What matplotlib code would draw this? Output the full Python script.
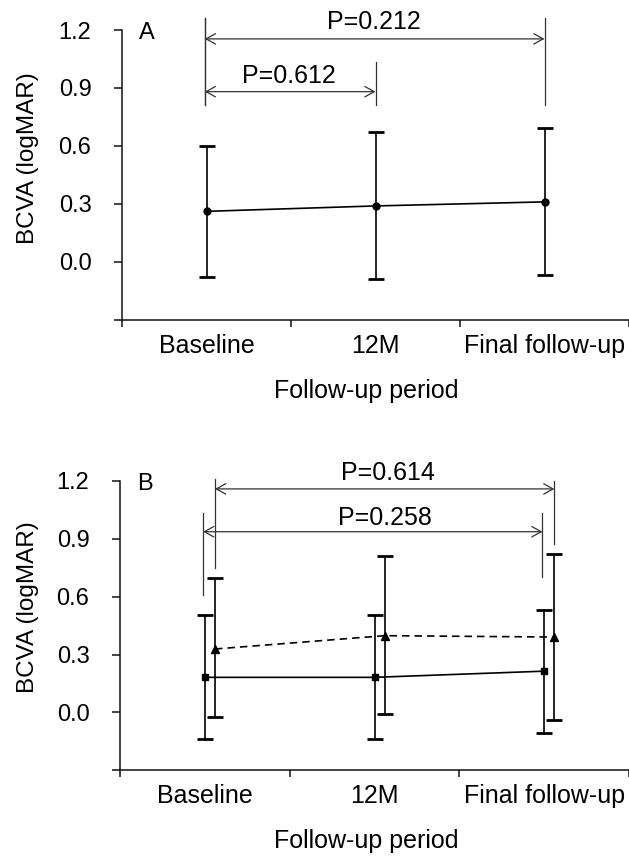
import matplotlib
matplotlib.use('Agg')
import matplotlib.pyplot as plt

plt.rcParams['font.family'] = ['Liberation Sans', 'DejaVu Sans']

# ---------------- data ----------------
categories = ['Baseline', '12M', 'Final follow-up']
cat_pos = [0.5, 1.5, 2.5]

# Panel A (circles)
a_mean = [0.262, 0.290, 0.311]
a_upper = [0.601, 0.672, 0.692]
a_lower = [-0.078, -0.088, -0.069]

# Panel B, series 1 (squares, solid line)
b1_mean = [0.182, 0.182, 0.214]
b1_upper = [0.505, 0.505, 0.531]
b1_lower = [-0.138, -0.138, -0.109]

# Panel B, series 2 (triangles, dashed line)
b2_mean = [0.329, 0.398, 0.391]
b2_upper = [0.695, 0.811, 0.821]
b2_lower = [-0.026, -0.009, -0.040]

a_pvals = ['P=0.612', 'P=0.212']
b_pvals = ['P=0.258', 'P=0.614']

yticks = [-0.3, 0.0, 0.3, 0.6, 0.9, 1.2]
ytick_labels = ['', '0.0', '0.3', '0.6', '0.9', '1.2']

# ---------------- figure ----------------
W, H = 629, 857
fig = plt.figure(figsize=(W / 100, H / 100), dpi=100)
axA = fig.add_axes([122 / W, 1 - 320 / H, 507 / W, 290 / H])
axB = fig.add_axes([120 / W, 1 - 770.3 / H, 509 / W, 289.3 / H])

SP = '#111111'
BR = '#333333'


def style_axes(ax):
    ax.set_xlim(0, 3)
    ax.set_ylim(-0.3, 1.2)
    for s in ['top', 'right']:
        ax.spines[s].set_visible(False)
    for s in ['left', 'bottom']:
        ax.spines[s].set_linewidth(1.1)
        ax.spines[s].set_color(SP)
    ax.set_yticks(yticks)
    ax.set_yticklabels(ytick_labels)
    ax.set_xticks([0, 1, 2, 3])
    ax.set_xticklabels([])
    ax.set_xticks(cat_pos, minor=True)
    ax.set_xticklabels(categories, minor=True)
    ax.tick_params(axis='y', length=6, width=1.1, color=SP, pad=16, labelsize=17)
    ax.tick_params(axis='x', which='major', length=5, width=1.1, color=SP)
    ax.tick_params(axis='x', which='minor', length=0, pad=10, labelsize=18)


def bracket(ax, x0, x1, y_arrow, span0, span1, text, tx, ty):
    ax.plot([x0, x0], span0, color=BR, lw=0.9, clip_on=False)
    ax.plot([x1, x1], span1, color=BR, lw=0.9, clip_on=False)
    ax.annotate('', xy=(x0, y_arrow), xytext=(x1, y_arrow),
                arrowprops=dict(arrowstyle='<->,head_length=0.45,head_width=0.25',
                                color=BR, lw=0.9, shrinkA=0, shrinkB=0,
                                mutation_scale=15),
                annotation_clip=False)
    ax.text(tx, ty, text, ha='center', va='baseline', fontsize=18, clip_on=False)


eb_kw = dict(color='black', ecolor='black', elinewidth=1.2, capsize=5.5,
             capthick=2.0, lw=1.2, clip_on=False)

# ---- Panel A ----
style_axes(axA)
a_err = [[m - l for m, l in zip(a_mean, a_lower)], [u - m for m, u in zip(a_mean, a_upper)]]
axA.errorbar(cat_pos, a_mean, yerr=a_err, marker='o', ms=5, **eb_kw)
bracket(axA, 0.49, 1.5, 0.881, [0.812, 1.26], [0.812, 1.036], a_pvals[0], 0.99, 0.924)
bracket(axA, 0.49, 2.5, 1.154, [0.812, 1.26], [0.812, 1.26], a_pvals[1], 1.49, 1.204)
axA.text(0.1, 1.152, 'A', fontsize=17, ha='left', va='baseline')

# ---- Panel B ----
style_axes(axB)
off = 0.06
x_sq = [p for p in cat_pos]
x_tr = [p + off for p in cat_pos]
b1_err = [[m - l for m, l in zip(b1_mean, b1_lower)], [u - m for m, u in zip(b1_mean, b1_upper)]]
b2_err = [[m - l for m, l in zip(b2_mean, b2_lower)], [u - m for m, u in zip(b2_mean, b2_upper)]]
axB.errorbar(x_sq, b1_mean, yerr=b1_err, marker='s', ms=5, **eb_kw)
eb2 = axB.errorbar(x_tr, b2_mean, yerr=b2_err, marker='^', ms=6, **eb_kw)
eb2[0].set_linestyle((0, (4.5, 3)))
bracket(axB, 0.49, 2.49, 0.937, [0.609, 1.035], [0.70, 1.035], b_pvals[0], 1.56, 0.972)
bracket(axB, 0.56, 2.56, 1.159, [0.75, 1.21], [0.872, 1.20], b_pvals[1], 1.58, 1.205)
axB.text(0.1, 1.153, 'B', fontsize=17, ha='left', va='baseline')

# ---- axis titles ----
for yc in [158, 607]:
    fig.text(28 / W, 1 - yc / H, 'BCVA (logMAR)', rotation=90, ha='center',
             va='center', fontsize=17.5)
for yb in [398, 848]:
    fig.text(366 / W, 1 - yb / H, 'Follow-up period', ha='center', va='baseline',
             fontsize=18)

fig.savefig('out.png', dpi=100, facecolor='white')
